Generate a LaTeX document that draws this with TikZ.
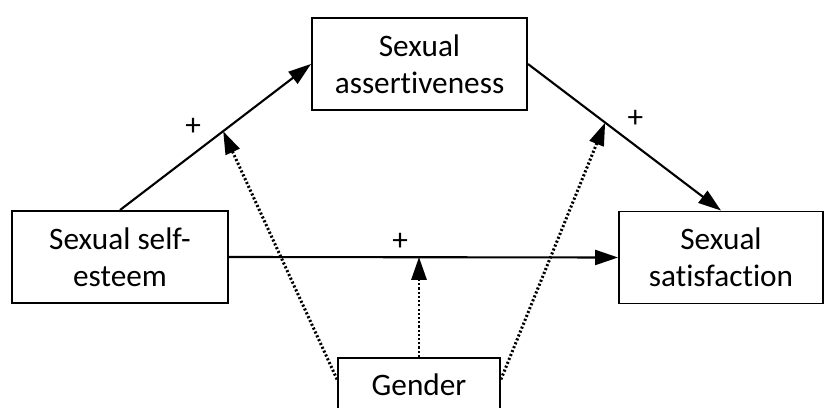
\documentclass[tikz,border=0pt]{standalone}
\usepackage{fontspec}
\setmainfont{Carlito}[Ligatures=NoCommon]
\usetikzlibrary{arrows.meta,calc}

\begin{document}
\begin{tikzpicture}[x=0.02cm,y=-0.02cm,>={Triangle[length=13pt,width=8.5pt]},
  font=\fontsize{17.8}{21}\selectfont,
  var/.style={draw,rectangle,line width=1.1pt,minimum height=1.84cm,align=center,inner sep=0pt},
  effect/.style={->,line width=1.2pt},
  moder/.style={->,line width=1.7pt,dash pattern=on 1.2pt off 1.2pt}]
\clip (0,0) rectangle (825,408);
\node[var,minimum width=4.30cm] (assert) at (419.5,64) {Sexual\\assertiveness};
\node[var,minimum width=4.32cm] (esteem) at (120,257) {Sexual self-\\esteem};
\node[var,minimum width=4.08cm] (satisf) at (721,257.5) {Sexual\\satisfaction};
\node[var,minimum width=3.24cm,minimum height=1.08cm] (gender) at (419,385) {Gender};

\path[effect] (esteem.north) edge node[pos=0.46,above left] {+} coordinate[pos=0.54] (m1) (assert.west)
(assert.east) edge node[pos=0.48,above right] {+} coordinate[pos=0.40] (m2) (satisf.north)
(esteem.east) edge node[pos=0.44,above] {+} (satisf.west);

\coordinate (m3) at (esteem.east -| gender.north);
\coordinate (gw) at ($(gender.north west)!0.4!(gender.south west)$);
\coordinate (ge) at ($(gender.north east)!0.4!(gender.south east)$);
\path[moder] (gw) edge (m1)
(ge) edge (m2)
(gender.north) edge (m3);
\end{tikzpicture}
\end{document}
